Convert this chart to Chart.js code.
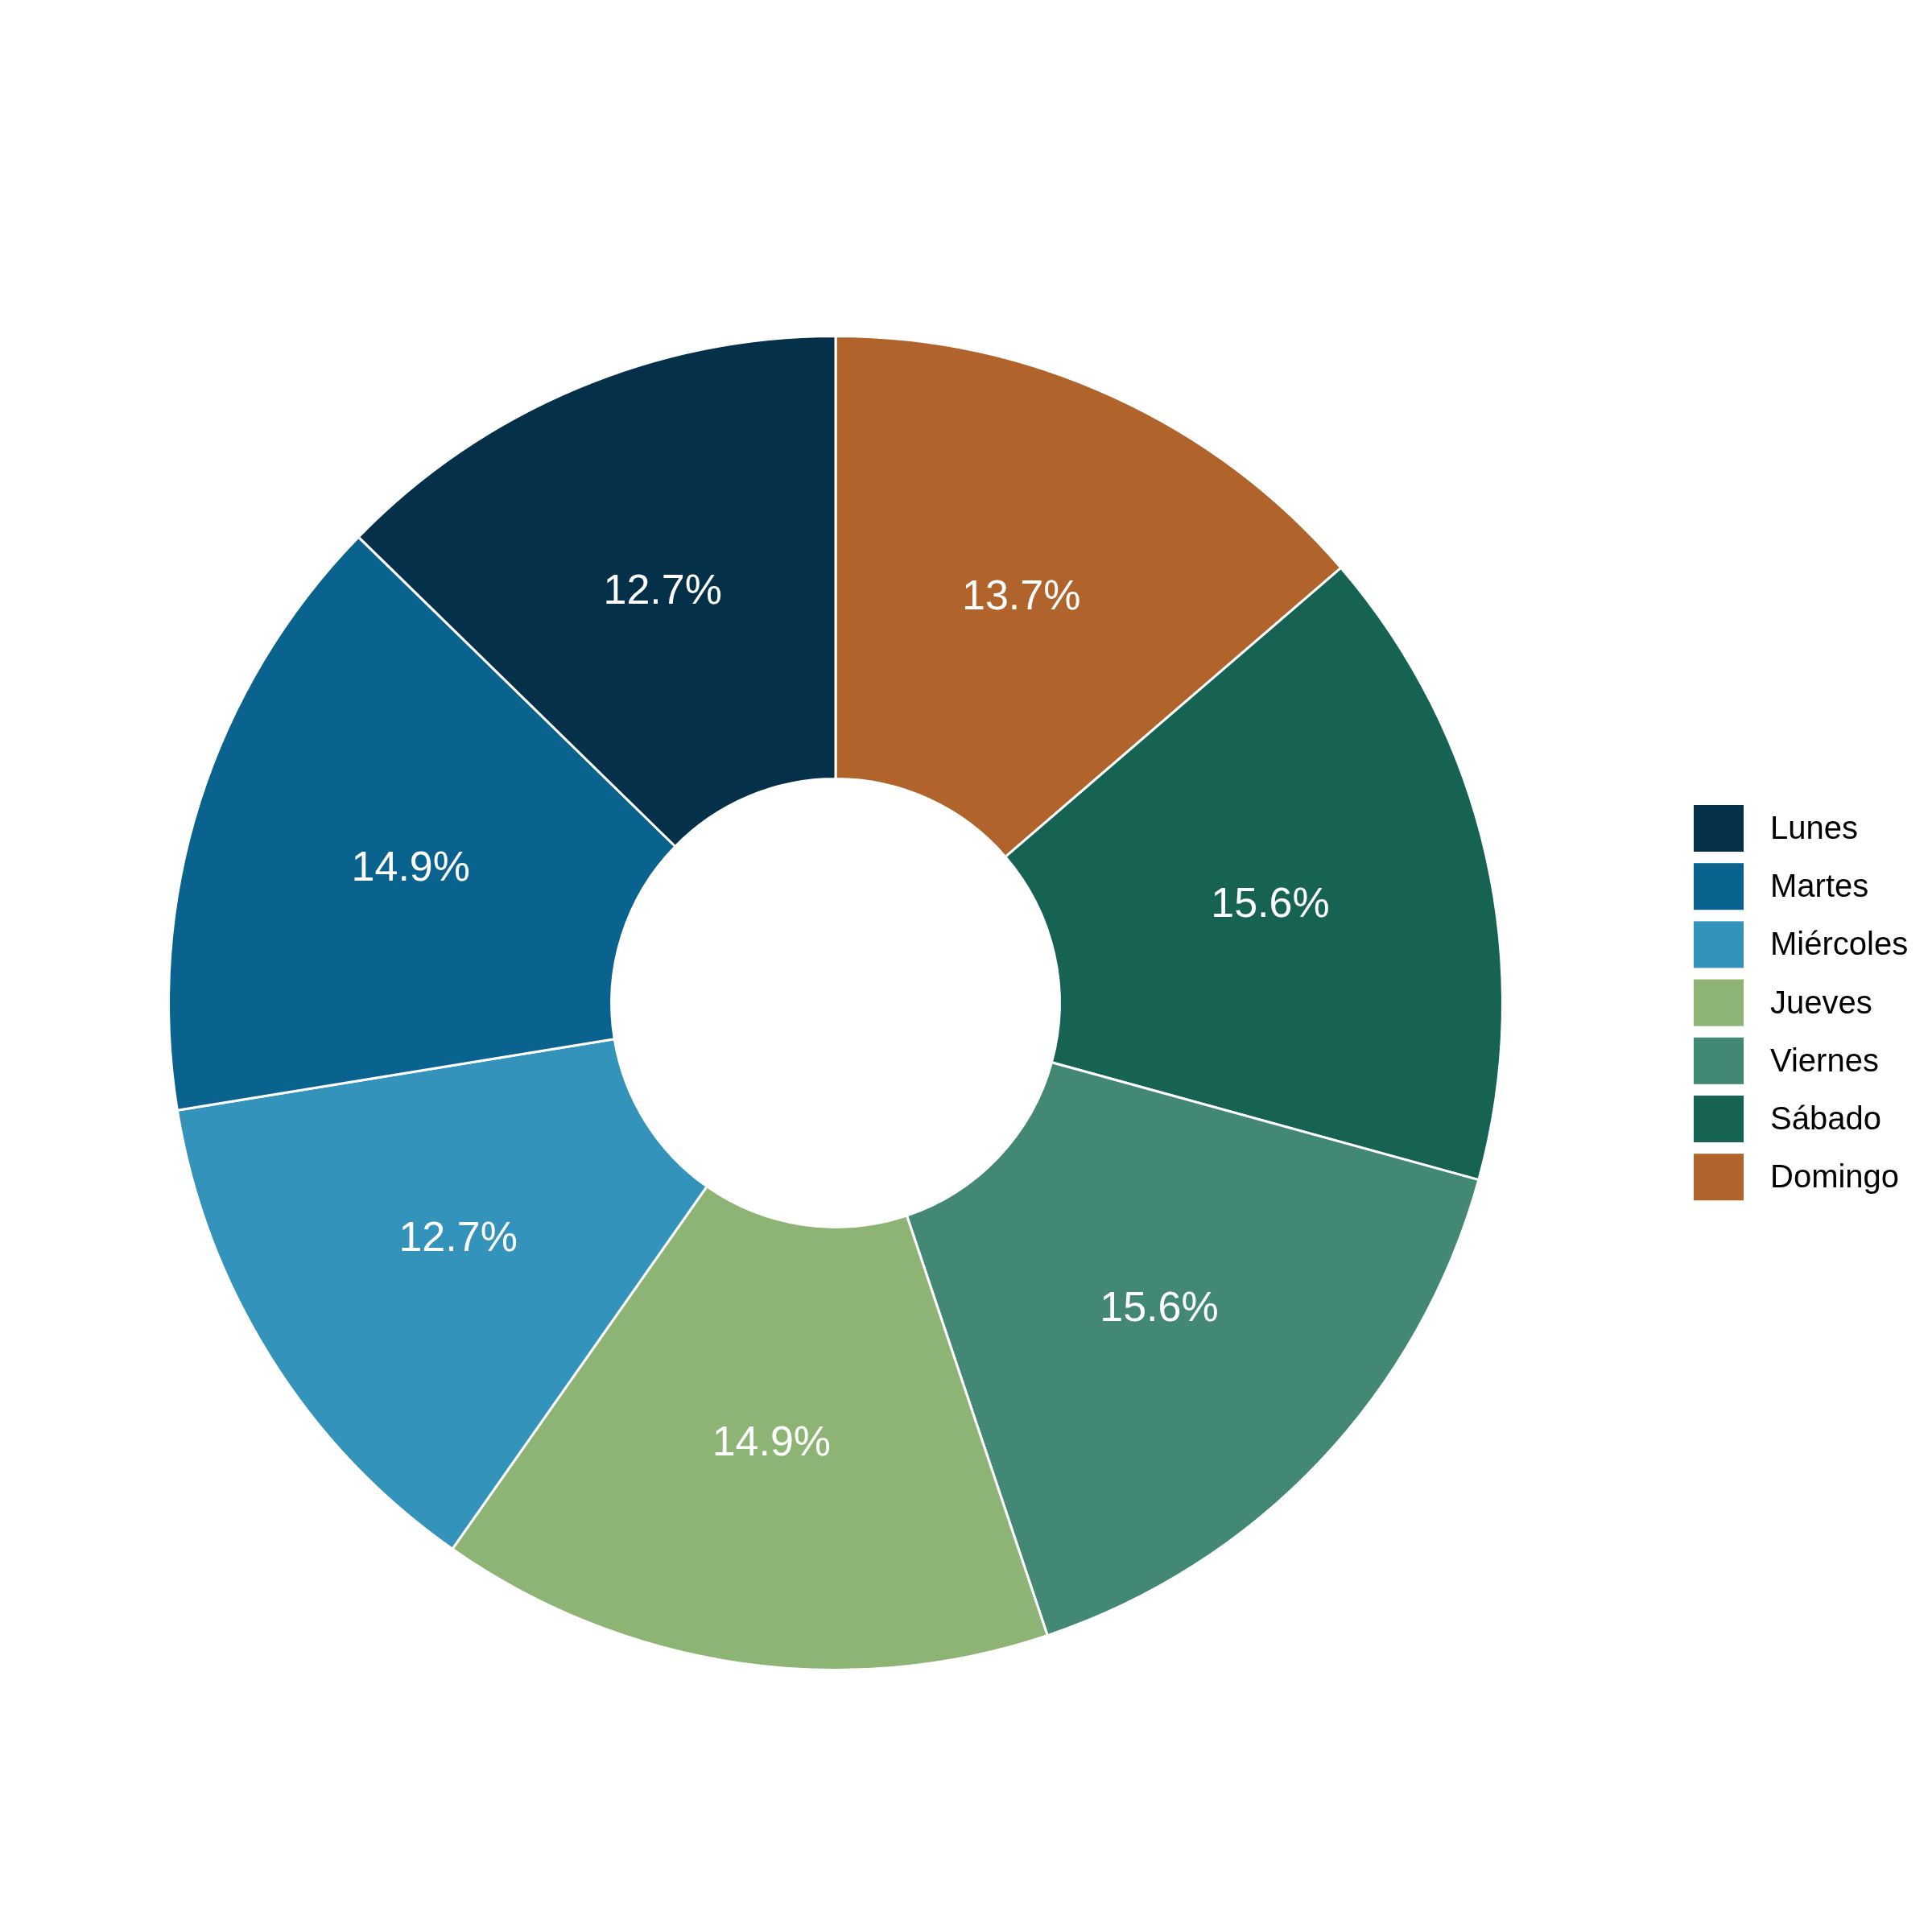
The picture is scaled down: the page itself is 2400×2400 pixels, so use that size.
<!DOCTYPE html>
<html>
<head>
<meta charset="utf-8">
<script src="https://cdn.jsdelivr.net/npm/chart.js@4"></script>
<style>
  body { margin: 0; background: #fff; }
  #wrap { width: 2400px; height: 2400px; }
</style>
</head>
<body>
<div id="wrap"><canvas id="grafico"></canvas></div>
<script>
// Datos en el orden de la leyenda
const dias = ['Lunes', 'Martes', 'Miércoles', 'Jueves', 'Viernes', 'Sábado', 'Domingo'];
const porcentajes = [12.7, 14.9, 12.7, 14.9, 15.6, 15.6, 13.7];
const colores = ['#05304a', '#0a628e', '#3493ba', '#8eb475', '#428875', '#166354', '#b0642b'];

// El gráfico original gira en sentido antihorario: se invierte para Chart.js
const etiquetasGraf = dias.slice().reverse();
const valoresGraf = porcentajes.slice().reverse();
const coloresGraf = colores.slice().reverse();

const etiquetasPct = {
    id: 'etiquetasPct',
    afterDatasetsDraw(chart) {
        const ctx = chart.ctx;
        const meta = chart.getDatasetMeta(0);
        ctx.save();
        ctx.fillStyle = '#ffffff';
        ctx.font = '52px "Liberation Sans", Arial, sans-serif';
        ctx.textAlign = 'center';
        ctx.textBaseline = 'middle';
        meta.data.forEach((arc, i) => {
            const mid = (arc.startAngle + arc.endAngle) / 2;
            const r = (arc.innerRadius + arc.outerRadius) / 2;
            ctx.fillText(valoresGraf[i].toFixed(1) + '%', arc.x + Math.cos(mid) * r, arc.y + Math.sin(mid) * r);
        });
        ctx.restore();
    }
};

const leyenda = {
    id: 'leyenda',
    afterDraw(chart) {
        const ctx = chart.ctx;
        ctx.save();
        ctx.font = '40px "Liberation Sans", Arial, sans-serif';
        ctx.textBaseline = 'middle';
        dias.forEach((d, i) => {
            const y = 1029 + i * 72.2;
            ctx.fillStyle = colores[i];
            ctx.fillRect(2104, y - 29, 62, 58);
            ctx.fillStyle = '#000000';
            ctx.fillText(d, 2199, y + 2);
        });
        ctx.restore();
    }
};

new Chart(document.getElementById('grafico'), {
    type: 'doughnut',
    data: {
        labels: etiquetasGraf,
        datasets: [{
            data: valoresGraf,
            backgroundColor: coloresGraf,
            borderColor: '#ffffff',
            borderWidth: 3
        }]
    },
    options: {
        responsive: true,
        maintainAspectRatio: false,
        animation: false,
        cutout: '33.6%',
        layout: { padding: { left: 0, right: 324, top: 416, bottom: 324 } },
        plugins: {
            legend: { display: false },
            tooltip: { enabled: false }
        }
    },
    plugins: [etiquetasPct, leyenda]
});
</script>
</body>
</html>
